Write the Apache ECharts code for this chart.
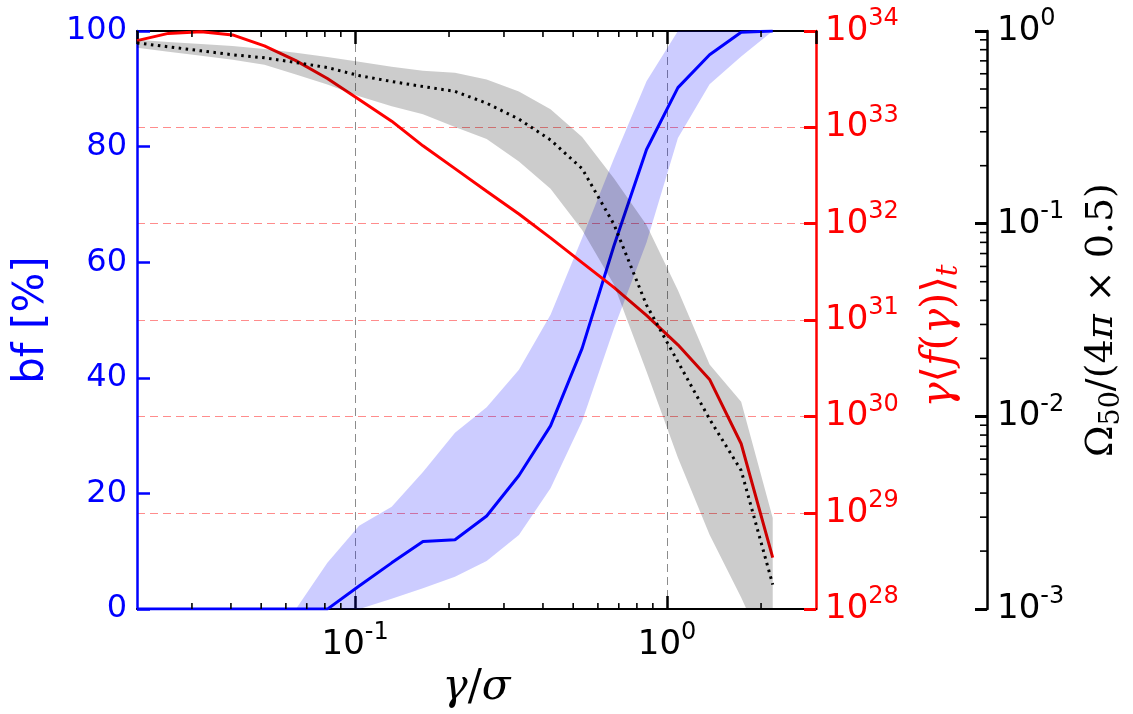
<!DOCTYPE html>
<html>
<head>
<meta charset="utf-8">
<script src="https://cdn.jsdelivr.net/npm/echarts@6/dist/echarts.min.js"></script>
<style>
  html, body { margin: 0; padding: 0; background: #fff; }
  #chart { width: 1133px; height: 714px; }
</style>
</head>
<body>
<div id="chart"></div>
<script>
// gamma/sigma sample points (log-spaced)
const gamma = [0.0200, 0.0252, 0.0321, 0.0405, 0.0512, 0.0646, 0.0815, 0.103, 0.131, 0.165, 0.209,
               0.264, 0.335, 0.423, 0.534, 0.675, 0.859, 1.083, 1.368, 1.727, 2.180];

// binary fraction [%]: median and spread
const bfMid  = [0, 0, 0, 0, 0, 0, 0, 4.0, 8.0, 11.7, 12.0, 16.1, 23.1, 31.7, 45.1, 62.8, 79.5, 90.2, 95.9, 99.8, 100];
const bfLow  = [0, 0, 0, 0, 0, 0, 0, 0, 1.8, 3.6, 5.6, 8.3, 12.8, 20.9, 32.5, 48.5, 63.4, 81.5, 90.8, 95.6, 100];
const bfHigh = [0, 0, 0, 0, 0, 0, 8.0, 14.4, 17.7, 23.7, 30.5, 34.9, 41.4, 50.9, 64.2, 77.9, 91.3, 100, 100, 100, 100];

// gamma <f(gamma)>_t
const gammaF = [7.94e33, 9.44e33, 9.84e33, 9.10e33, 7.01e33, 4.92e33, 3.21e33, 1.95e33, 1.16e33, 6.43e32,
                3.73e32, 2.17e32, 1.26e32, 7.13e31, 3.94e31, 2.18e31, 1.12e31, 5.53e30, 2.42e30, 5.20e29, 3.42e28];

// Omega_50 / (4 pi x 0.5): median and spread
const omegaMid  = [0.867, 0.828, 0.789, 0.753, 0.726, 0.686, 0.646, 0.587, 0.547, 0.515, 0.486,
                   0.422, 0.349, 0.272, 0.193, 0.0995, 0.0378, 0.0192, 0.00968, 0.00524, 0.00134];
const omegaHigh = [0.900, 0.877, 0.857, 0.837, 0.807, 0.770, 0.734, 0.693, 0.653, 0.622, 0.608,
                   0.560, 0.486, 0.393, 0.282, 0.172, 0.0984, 0.0451, 0.0186, 0.0119, 0.00297];
const omegaLow  = [0.818, 0.780, 0.744, 0.709, 0.668, 0.594, 0.528, 0.458, 0.407, 0.370, 0.318,
                   0.275, 0.210, 0.152, 0.0927, 0.0484, 0.0171, 0.0061, 0.00243, 0.00115, 0.0005];

// axis ranges and tick values
const xRange = [0.02, 3];
const bfTicks = [0, 20, 40, 60, 80, 100];
const fRange = [1e28, 1e34];
const omegaRange = [1e-3, 1];
const xMinorTicks = [0.03, 0.04, 0.05, 0.06, 0.07, 0.08, 0.09, 0.2, 0.3, 0.4, 0.5, 0.6, 0.7, 0.8, 0.9, 2];
const omegaMinorTicks = [0.002, 0.003, 0.004, 0.005, 0.006, 0.007, 0.008, 0.009,
                         0.02, 0.03, 0.04, 0.05, 0.06, 0.07, 0.08, 0.09,
                         0.2, 0.3, 0.4, 0.5, 0.6, 0.7, 0.8, 0.9];

const SANS = "'DejaVu Sans', sans-serif";
const SERIF = "'DejaVu Serif', serif";
const OMEGA_OFFSET = 171;

function powLabel(v) {
  const e = Math.log10(v);
  const r = Math.round(e);
  if (Math.abs(e - r) > 1e-6) return '';
  return '{b|10}{s|' + r + '}';
}
function powRich(color) {
  return {
    b: { fontFamily: SANS, fontSize: 34, color: color, lineHeight: 48 },
    s: { fontFamily: SANS, fontSize: 24, color: color, lineHeight: 24, verticalAlign: 'top' }
  };
}

function bandRenderer(lo, hi, fill) {
  return function (params, api) {
    if (params.dataIndex !== 0) return;
    const pts = [];
    for (let i = 0; i < gamma.length; i++) pts.push(api.coord([gamma[i], hi[i]]));
    for (let i = gamma.length - 1; i >= 0; i--) pts.push(api.coord([gamma[i], lo[i]]));
    return { type: 'polygon', shape: { points: pts }, style: { fill: fill } };
  };
}

const chart = echarts.init(document.getElementById('chart'));

const option = {
  animation: false,
  backgroundColor: '#fff',
  grid: { left: 137, top: 31, width: 688, height: 584, containLabel: false },
  xAxis: [
    {
      type: 'log', min: xRange[0], max: xRange[1], position: 'bottom',
      name: '{i|γ}{n|/}{i|σ}', nameLocation: 'middle', nameGap: 52,
      nameTextStyle: {
        rich: {
          i: { fontFamily: SERIF, fontStyle: 'italic', fontSize: 42, color: '#000' },
          n: { fontFamily: SERIF, fontSize: 42, color: '#000' }
        }
      },
      axisLine: { show: true, onZero: false, lineStyle: { color: '#000', width: 2 } },
      axisTick: { show: true, inside: true, length: 13, lineStyle: { color: '#000', width: 2.5 } },
      axisLabel: {
        show: true, margin: 12, formatter: powLabel, rich: powRich('#000'),
        showMinLabel: false, showMaxLabel: false
      },
      splitLine: { show: true, lineStyle: { color: 'rgba(0,0,0,0.45)', width: 1, type: [8, 5] } }
    },
    {
      type: 'log', min: xRange[0], max: xRange[1], position: 'top',
      axisLine: { show: true, onZero: false, lineStyle: { color: '#000', width: 2 } },
      axisTick: { show: true, inside: true, length: 13, lineStyle: { color: '#000', width: 2.5 } },
      axisLabel: { show: false },
      splitLine: { show: false }
    }
  ],
  yAxis: [
    {
      type: 'value', min: bfTicks[0], max: bfTicks[bfTicks.length - 1], interval: bfTicks[1] - bfTicks[0],
      position: 'left',
      name: 'bf [%]', nameLocation: 'middle', nameGap: 84,
      nameTextStyle: { fontFamily: SANS, fontSize: 42, color: '#0000ff' },
      axisLine: { show: true, onZero: false, lineStyle: { color: '#0000ff', width: 2.5 } },
      axisTick: { show: true, inside: true, length: 13, lineStyle: { color: '#0000ff', width: 2.5 } },
      axisLabel: { margin: 10, fontFamily: SANS, fontSize: 32, color: '#0000ff' },
      splitLine: { show: false }
    },
    {
      type: 'log', min: fRange[0], max: fRange[1], position: 'right', splitNumber: 6,
      name: '{i|γ}{n|⟨}{i|f}{n|(}{i|γ}{n|)⟩}{sub|t}', nameLocation: 'middle', nameGap: 100,
      nameTextStyle: {
        rich: {
          i: { fontFamily: SERIF, fontStyle: 'italic', fontSize: 42, color: '#ff0000', lineHeight: 48 },
          n: { fontFamily: SERIF, fontSize: 42, color: '#ff0000', lineHeight: 48 },
          sub: {
            fontFamily: SERIF, fontStyle: 'italic', fontSize: 29, color: '#ff0000',
            lineHeight: 32, verticalAlign: 'bottom', padding: [0, 32, 0, 0]
          }
        }
      },
      axisLine: { show: true, onZero: false, lineStyle: { color: '#ff0000', width: 2.5 } },
      axisTick: { show: true, inside: true, length: 12, lineStyle: { color: '#ff0000', width: 3 } },
      axisLabel: { margin: 9, formatter: powLabel, rich: powRich('#ff0000') },
      splitLine: { show: true, lineStyle: { color: 'rgba(255,0,0,0.45)', width: 1, type: [8, 5] } }
    },
    {
      type: 'log', min: omegaRange[0], max: omegaRange[1], position: 'right', offset: OMEGA_OFFSET, splitNumber: 3,
      name: '{n|Ω}{sub|50}{n|/(4}{i|π}{n| × 0.5)}', nameLocation: 'middle', nameGap: 92,
      nameTextStyle: {
        rich: {
          i: { fontFamily: SERIF, fontStyle: 'italic', fontSize: 38, color: '#000', lineHeight: 46 },
          n: { fontFamily: SERIF, fontSize: 38, color: '#000', lineHeight: 46 },
          sub: { fontFamily: SERIF, fontSize: 27, color: '#000', lineHeight: 32, verticalAlign: 'bottom' }
        }
      },
      axisLine: { show: true, onZero: false, lineStyle: { color: '#000', width: 2.5 } },
      axisTick: { show: true, inside: true, length: 12, lineStyle: { color: '#000', width: 3 } },
      axisLabel: { margin: 10, formatter: powLabel, rich: powRich('#000') },
      splitLine: { show: false }
    }
  ],
  series: [
    {
      name: 'bf spread', type: 'custom', xAxisIndex: 0, yAxisIndex: 0, z: 2, clip: true,
      renderItem: bandRenderer(bfLow, bfHigh, 'rgba(0,0,255,0.2)'),
      data: gamma.map((g, i) => [g, bfLow[i], bfHigh[i]]),
      encode: { x: 0, y: [1, 2] }, silent: true
    },
    {
      name: 'bf', type: 'line', xAxisIndex: 0, yAxisIndex: 0, z: 3,
      showSymbol: false, symbol: 'none', clip: true,
      lineStyle: { color: '#0000ff', width: 3 },
      data: gamma.map((g, i) => [g, bfMid[i]])
    },
    {
      name: 'gamma f', type: 'line', xAxisIndex: 0, yAxisIndex: 1, z: 4,
      showSymbol: false, symbol: 'none', clip: true,
      lineStyle: { color: '#ff0000', width: 3 },
      data: gamma.map((g, i) => [g, gammaF[i]])
    },
    {
      name: 'Omega spread', type: 'custom', xAxisIndex: 0, yAxisIndex: 2, z: 5, clip: true,
      renderItem: bandRenderer(omegaLow, omegaHigh, 'rgba(0,0,0,0.2)'),
      data: gamma.map((g, i) => [g, omegaLow[i], omegaHigh[i]]),
      encode: { x: 0, y: [1, 2] }, silent: true
    },
    {
      name: 'Omega', type: 'line', xAxisIndex: 0, yAxisIndex: 2, z: 6,
      showSymbol: false, symbol: 'none', clip: true,
      lineStyle: { color: '#000', width: 3, type: [2.5, 4.5] },
      data: gamma.map((g, i) => [g, omegaMid[i]])
    },
    {
      // minor ticks of the log x axis, bottom and top edges
      name: 'x minor ticks', type: 'custom', xAxisIndex: 0, yAxisIndex: 0, z: 7, silent: true,
      renderItem: function (params, api) {
        const p = api.coord([api.value(0), 50]);
        const cs = params.coordSys;
        const st = { stroke: '#000', lineWidth: 1.6 };
        return {
          type: 'group', children: [
            { type: 'line', shape: { x1: p[0], y1: cs.y + cs.height, x2: p[0], y2: cs.y + cs.height - 6 }, style: st },
            { type: 'line', shape: { x1: p[0], y1: cs.y, x2: p[0], y2: cs.y + 6 }, style: st }
          ]
        };
      },
      data: xMinorTicks.map(v => [v, 50]),
      encode: { x: 0, y: 1 }
    },
    {
      // minor ticks of the Omega log axis
      name: 'Omega minor ticks', type: 'custom', xAxisIndex: 0, yAxisIndex: 2, z: 7, silent: true,
      renderItem: function (params, api) {
        const p = api.coord([0.1, api.value(1)]);
        const cs = params.coordSys;
        const x = cs.x + cs.width + OMEGA_OFFSET;
        return {
          type: 'line', shape: { x1: x, y1: p[1], x2: x - 7, y2: p[1] },
          style: { stroke: '#000', lineWidth: 1.6 }
        };
      },
      data: omegaMinorTicks.map(v => [0.1, v]),
      encode: { x: 0, y: 1 }
    }
  ]
};

chart.setOption(option);
</script>
</body>
</html>
